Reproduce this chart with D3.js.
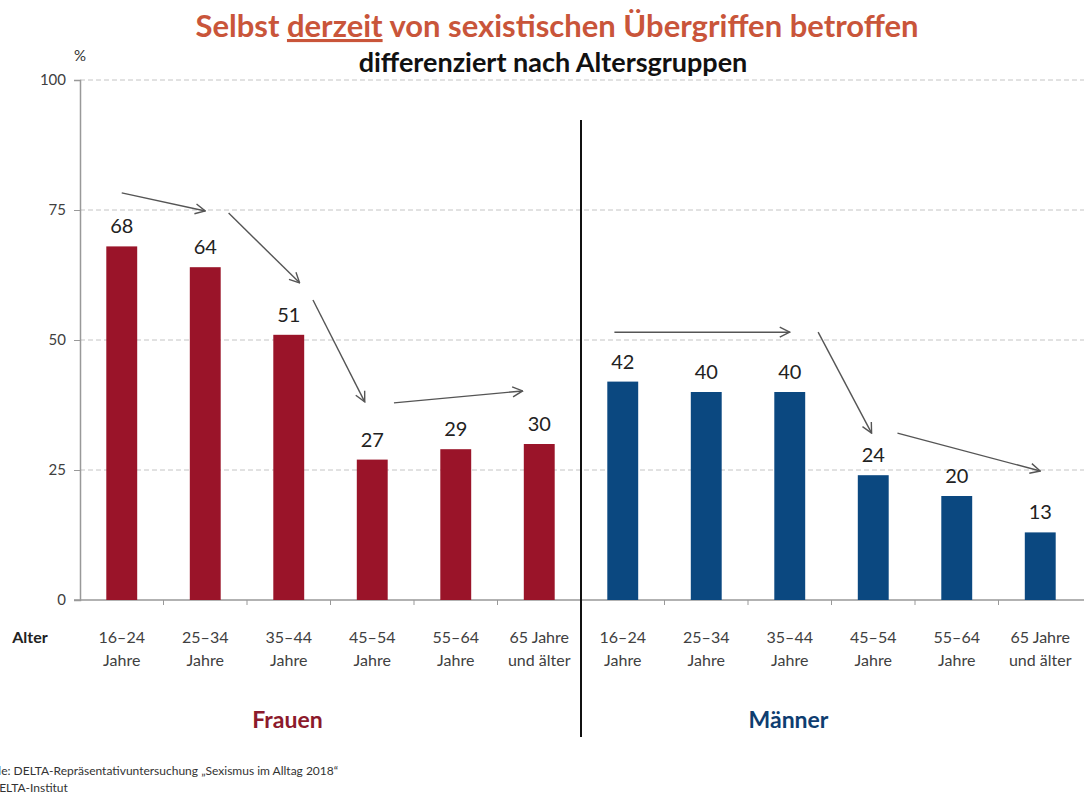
<!DOCTYPE html>
<html lang="de">
<head>
<meta charset="UTF-8">
<title>Selbst derzeit von sexistischen Übergriffen betroffen</title>
<script src="https://cdn.jsdelivr.net/npm/d3@7"></script>
<style>
    body { margin: 0; background: #fff; }
    svg { display: block; font-family: Lato, "Open Sans", sans-serif; }
    .grid line { stroke: #c4c4c4; stroke-dasharray: 5,3; }
    .val { font-size: 20px; fill: #222; text-anchor: middle; }
    .cat { font-size: 16px; fill: #404040; text-anchor: middle; }
</style>
</head>
<body>
<svg width="1084" height="798"></svg>
<script>
// data
var groups = ["Frauen", "Männer"];
var ageLabels = [["16–24", "Jahre"], ["25–34", "Jahre"], ["35–44", "Jahre"],
                 ["45–54", "Jahre"], ["55–64", "Jahre"], ["65 Jahre", "und älter"]];
var frauen = [68, 64, 51, 27, 29, 30];
var maenner = [42, 40, 40, 24, 20, 13];
var yTicks = [0, 25, 50, 75, 100];

// arrows: [category index, offset in band, value] -> [...]
var arrows = [
    [[0, 0.0, 78.3], [1, 0.0, 74.8]],
    [[1, 0.28, 74.4], [2, 0.13, 61]],
    [[2, 0.29, 57.7], [3, -0.09, 38.1]],
    [[3, 0.26, 37.9], [5, -0.2, 40.2]],
    [[6, -0.1, 51.5], [8, 0.0, 51.5]],
    [[8, 0.34, 51.5], [9, -0.02, 32.1]],
    [[9, 0.29, 32.1], [11, 0.0, 24.8]]
];

var colors = { "Frauen": "#9a1429", "Männer": "#0b4880" };
var labelColors = { "Frauen": "#8c1a2b", "Männer": "#0e3d70" };

var rows = [];
groups.forEach(function (g, gi) {
    var vals = gi === 0 ? frauen : maenner;
    vals.forEach(function (v, i) {
        rows.push({ key: g + i, group: g, idx: i, value: v, label: ageLabels[i] });
    });
});

var svg = d3.select("svg");
var mLeft = 80, mRight = 1082, mTop = 80, mBottom = 600;

var x = d3.scaleBand().domain(rows.map(function (d) { return d.key; }))
    .range([mLeft, mRight]).padding(0);
var y = d3.scaleLinear().domain([0, 100]).range([mBottom, mTop]);
var barW = x.bandwidth() * 0.37;

function ax(p) { return x(rows[p[0]].key) + x.bandwidth() * (0.5 + p[1]); }

// title
var title = svg.append("text")
    .attr("x", 557).attr("y", 37)
    .attr("text-anchor", "middle")
    .style("font-size", "31px").style("font-weight", "bold")
    .style("fill", "#c9553a");
title.append("tspan").text("Selbst ");
title.append("tspan").text("derzeit").style("text-decoration", "underline");
title.append("tspan").text(" von sexistischen Übergriffen betroffen");

svg.append("text")
    .attr("x", 553).attr("y", 72)
    .attr("text-anchor", "middle")
    .style("font-size", "27px").style("font-weight", "bold")
    .style("fill", "#111")
    .text("differenziert nach Altersgruppen");

svg.append("text").attr("x", 74).attr("y", 61)
    .style("font-size", "15px").style("fill", "#333").text("%");

// grid
svg.append("g").attr("class", "grid")
    .selectAll("line").data(yTicks.filter(function (t) { return t > 0; }))
    .enter().append("line")
    .attr("x1", mLeft).attr("x2", 1084)
    .attr("y1", function (d) { return y(d); })
    .attr("y2", function (d) { return y(d); });

// y axis
var yAxis = svg.append("g")
    .attr("transform", "translate(" + mLeft + ",0)")
    .call(d3.axisLeft(y).tickValues(yTicks).tickSize(6).tickPadding(8));
yAxis.select(".domain").attr("stroke", "#999").attr("stroke-width", 1.5);
yAxis.selectAll(".tick line").attr("stroke", "#999");
yAxis.selectAll("text").style("font-size", "15px").style("fill", "#404040")
    .style("font-family", "Lato, sans-serif");

// x axis line + ticks
svg.append("line")
    .attr("x1", mLeft - 6).attr("x2", 1084)
    .attr("y1", mBottom).attr("y2", mBottom)
    .attr("stroke", "#999").attr("stroke-width", 1.5);
svg.append("g").selectAll("line")
    .data(rows.slice(1))
    .enter().append("line")
    .attr("x1", function (d) { return x(d.key); })
    .attr("x2", function (d) { return x(d.key); })
    .attr("y1", mBottom).attr("y2", mBottom + 5)
    .attr("stroke", "#999");

// bars
svg.selectAll(".bar").data(rows).enter().append("rect")
    .attr("class", "bar")
    .attr("x", function (d) { return x(d.key) + (x.bandwidth() - barW) / 2; })
    .attr("y", function (d) { return y(d.value); })
    .attr("width", barW)
    .attr("height", function (d) { return y(0) - y(d.value); })
    .attr("fill", function (d) { return colors[d.group]; });

// value labels
svg.selectAll(".val").data(rows).enter().append("text")
    .attr("class", "val")
    .attr("x", function (d) { return x(d.key) + x.bandwidth() / 2; })
    .attr("y", function (d) { return y(d.value) - 13; })
    .text(function (d) { return d.value; });

// category labels
var cats = svg.selectAll(".cat").data(rows).enter().append("text")
    .attr("class", "cat")
    .attr("x", function (d) { return x(d.key) + x.bandwidth() / 2; })
    .attr("y", 643);
cats.append("tspan").text(function (d) { return d.label[0]; });
cats.append("tspan")
    .attr("x", function (d) { return x(d.key) + x.bandwidth() / 2; })
    .attr("dy", 23)
    .text(function (d) { return d.label[1]; });

svg.append("text").attr("x", 30).attr("y", 643)
    .attr("text-anchor", "middle")
    .style("font-size", "16px").style("font-weight", "bold").style("fill", "#222")
    .text("Alter");

// divider
var divX = x(rows[6].key);
svg.append("line")
    .attr("x1", divX).attr("x2", divX)
    .attr("y1", 120).attr("y2", 737)
    .attr("stroke", "#111").attr("stroke-width", 2);

// group labels
groups.forEach(function (g, gi) {
    var a = x(rows[gi * 6].key), b = x(rows[gi * 6 + 5].key) + x.bandwidth();
    svg.append("text")
        .attr("x", (a + b) / 2 - 43).attr("y", 728)
        .attr("text-anchor", "middle")
        .style("font-size", "23px").style("font-weight", "bold")
        .style("fill", labelColors[g])
        .text(g);
});

// arrows
svg.append("defs").append("marker")
    .attr("id", "arr").attr("viewBox", "0 0 12 12")
    .attr("refX", 11).attr("refY", 6)
    .attr("markerWidth", 12).attr("markerHeight", 12)
    .attr("markerUnits", "userSpaceOnUse")
    .attr("orient", "auto")
    .append("path").attr("d", "M1,1 L11,6 L1,11")
    .attr("fill", "none").attr("stroke", "#555").attr("stroke-width", 1.4);

svg.append("g").selectAll("line").data(arrows).enter().append("line")
    .attr("x1", function (d) { return ax(d[0]); })
    .attr("y1", function (d) { return y(d[0][2]); })
    .attr("x2", function (d) { return ax(d[1]); })
    .attr("y2", function (d) { return y(d[1][2]); })
    .attr("stroke", "#555").attr("stroke-width", 1.4)
    .attr("marker-end", "url(#arr)");

// source
svg.append("text").attr("x", -27).attr("y", 775)
    .style("font-size", "12px").style("fill", "#333")
    .text("Quelle: DELTA-Repräsentativuntersuchung „Sexismus im Alltag 2018“");
svg.append("text").attr("x", -23).attr("y", 792)
    .style("font-size", "12px").style("fill", "#333")
    .text("© DELTA-Institut");
</script>
</body>
</html>
